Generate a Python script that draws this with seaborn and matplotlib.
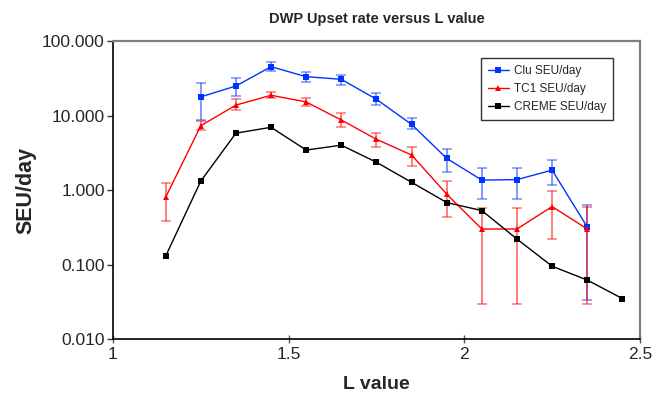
import numpy as np
import pandas as pd
import matplotlib
matplotlib.use("Agg")
import matplotlib.pyplot as plt
from matplotlib.lines import Line2D
import seaborn as sns

# --- data ---
l_values = [1.15, 1.25, 1.35, 1.45, 1.55, 1.65, 1.75, 1.85, 1.95, 2.05, 2.15, 2.25, 2.35, 2.45]

clu_l = [1.25, 1.35, 1.45, 1.55, 1.65, 1.75, 1.85, 1.95, 2.05, 2.15, 2.25, 2.35]
clu_seu = [17.8, 24.9, 45.2, 33.2, 30.6, 16.5, 7.6, 2.66, 1.36, 1.38, 1.85, 0.32]
clu_hi = [27.5, 31.8, 52.0, 38.4, 35.0, 19.9, 9.2, 3.5, 1.95, 2.0, 2.5, 0.63]
clu_lo = [8.6, 18.4, 39.5, 28.0, 26.0, 13.8, 6.5, 1.77, 0.75, 0.75, 1.17, 0.033]

tc1_l = [1.15, 1.25, 1.35, 1.45, 1.55, 1.65, 1.75, 1.85, 1.95, 2.05, 2.15, 2.25, 2.35]
tc1_seu = [0.80, 7.3, 13.8, 18.7, 15.2, 8.7, 4.8, 2.95, 0.88, 0.30, 0.30, 0.60, 0.30]
tc1_hi = [1.25, 8.5, 16.5, 21.0, 17.0, 10.8, 5.9, 3.8, 1.33, 0.58, 0.58, 0.98, 0.60]
tc1_lo = [0.39, 6.4, 11.8, 17.0, 13.6, 7.0, 3.8, 2.1, 0.43, 0.030, 0.030, 0.22, 0.030]

creme_l = l_values
creme_seu = [0.13, 1.32, 5.8, 6.95, 3.44, 4.0, 2.36, 1.27, 0.68, 0.53, 0.22, 0.095, 0.062, 0.035]

y_ticks = [0.01, 0.1, 1, 10, 100]
y_ticklabels = ["0.010", "0.100", "1.000", "10.000", "100.000"]
x_ticks = [1, 1.5, 2, 2.5]
x_ticklabels = ["1", "1.5", "2", "2.5"]

sns.set_style("white")
plt.rcParams["font.family"] = ["Liberation Sans", "DejaVu Sans"]

BLUE = "#0033ff"
RED = "#ff0000"
BLACK = "#000000"

fig = plt.figure(figsize=(6.53, 3.98), dpi=100)
ax = fig.add_axes([0.173, 0.148, 0.807, 0.749])

series = [
    ("Clu SEU/day", clu_l, clu_seu, clu_lo, clu_hi, BLUE, "s"),
    ("TC1 SEU/day", tc1_l, tc1_seu, tc1_lo, tc1_hi, RED, "^"),
    ("CREME SEU/day", creme_l, creme_seu, None, None, BLACK, "s"),
]

frames = []
for name, xs, ys, lo, hi, col, mk in series:
    frames.append(pd.DataFrame({"L": xs, "SEU": ys, "series": name}))
df = pd.concat(frames, ignore_index=True)

# error bars first (lighter), lines on top
for name, xs, ys, lo, hi, col, mk in series:
    if lo is None:
        continue
    ys_a = np.array(ys)
    yerr = [ys_a - np.array(lo), np.array(hi) - ys_a]
    ax.errorbar(xs, ys, yerr=yerr, fmt="none", ecolor=col, alpha=0.5,
                elinewidth=1.4, capsize=3.5, capthick=1.2, zorder=2)

palette = {s[0]: s[5] for s in series}
markers = {s[0]: s[6] for s in series}
sns.lineplot(data=df, x="L", y="SEU", hue="series", style="series",
             palette=palette, markers=markers, dashes=False, markersize=5,
             markeredgewidth=0, linewidth=1.0, ax=ax, zorder=3, legend=False)

ax.set_yscale("log")
ax.set_ylim(0.01, 100)
ax.set_xlim(1, 2.5)
ax.set_yticks(y_ticks)
ax.set_yticklabels(y_ticklabels)
ax.minorticks_off()
ax.set_xticks(x_ticks)
ax.set_xticklabels(x_ticklabels)
ax.tick_params(axis="y", which="major", direction="out", length=4, width=1,
               labelsize=12.5, color="#333333", left=True, pad=2)
ax.tick_params(axis="x", which="major", direction="inout", length=6, width=1,
               labelsize=12.5, color="#555555", bottom=True, pad=3)

for side in ["left", "bottom"]:
    ax.spines[side].set_color("black")
    ax.spines[side].set_linewidth(1.2)
for side in ["top", "right"]:
    ax.spines[side].set_color("#808080")
    ax.spines[side].set_linewidth(1.6)

ax.set_xlabel("L value", fontsize=14, fontweight="bold", labelpad=10)
ax.set_ylabel("SEU/day", fontsize=15.5, fontweight="bold", labelpad=4)
ax.set_title("DWP Upset rate versus L value", fontsize=10.5, fontweight="bold", pad=13)

handles = [Line2D([0], [0], color=s[5], marker=s[6], markersize=5, lw=1.0,
                  markeredgewidth=0) for s in series]
leg = ax.legend(handles, [s[0] for s in series], loc="upper right",
                bbox_to_anchor=(0.96, 0.962), fontsize=8.5, frameon=True,
                fancybox=False, edgecolor="black", handlelength=1.8,
                borderpad=0.6, labelspacing=0.5, handletextpad=0.4)
leg.get_frame().set_linewidth(1.0)

fig.savefig("out.png", dpi=100)
